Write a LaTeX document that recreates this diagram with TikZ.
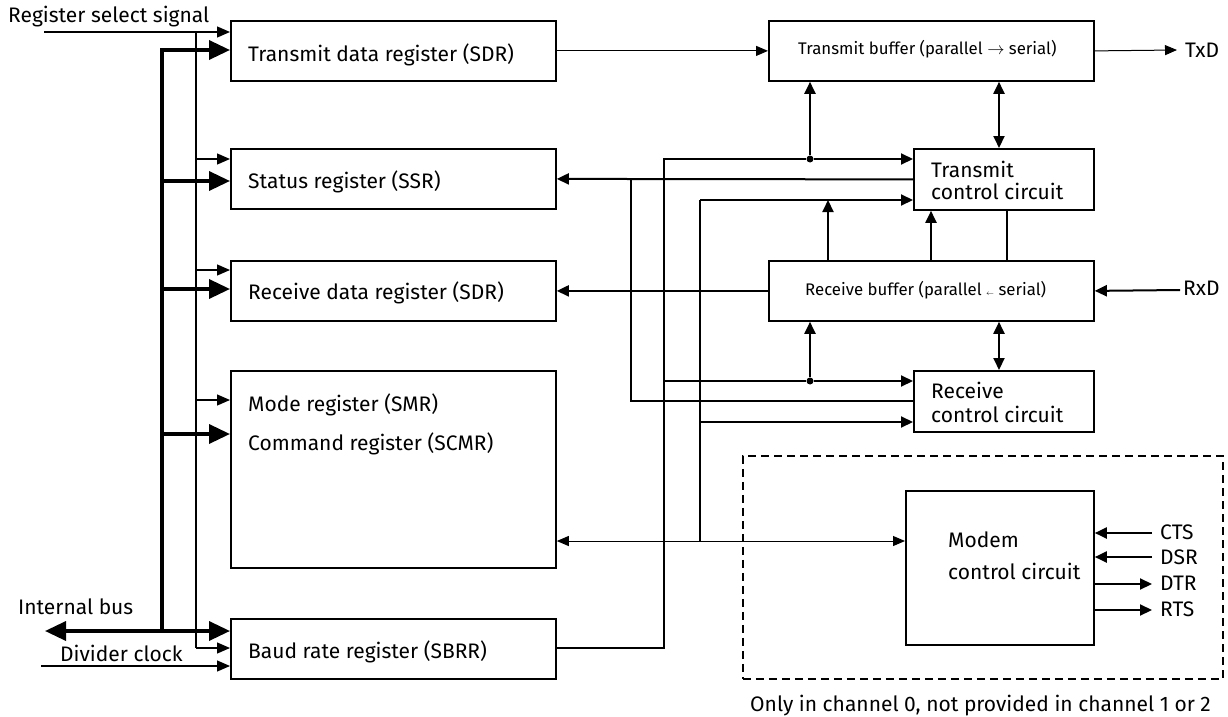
\documentclass[tikz,border=0pt]{standalone}
\usepackage{fontspec}
\setmainfont{Fira Sans}
\usetikzlibrary{arrows.meta,calc}
\begin{document}
\begin{tikzpicture}[x=1pt,y=-1pt,
  box/.style={draw, line width=1.8pt, inner sep=0pt, anchor=north west},
  lab/.style={inner sep=0pt, anchor=base west, font=\fontsize{21}{23}\selectfont},
  small/.style={inner sep=0pt, anchor=base west, font=\fontsize{16.8}{18}\selectfont},
  sel/.style={line width=1.3pt, -{Triangle[length=13pt,width=11pt]}},
  bus/.style={line width=3.5pt, -{Triangle[length=21pt,width=19pt]}},
  busl/.style={line width=3.5pt},
  mid/.style={line width=2pt, -{Triangle[length=12pt,width=11pt]}},
  midd/.style={line width=2pt, {Triangle[length=12pt,width=11pt]}-{Triangle[length=12pt,width=11pt]}},
  midl/.style={line width=2pt},
  thn/.style={line width=1pt, -{Triangle[length=12pt,width=10pt]}},
  thnd/.style={line width=1pt, {Triangle[length=12pt,width=10pt]}-{Triangle[length=12pt,width=10pt]}},
  dot/.style={circle, fill, inner sep=0pt, minimum size=7pt}
]
\useasboundingbox (0,0) rectangle (1228,717);

% ---------- boxes ----------
\node[box, minimum width=325pt, minimum height=60pt] (sdrT) at (230,20) {};
\node[box, minimum width=325pt, minimum height=60pt] (ssr) at (230,148) {};
\node[box, minimum width=325pt, minimum height=60pt] (sdrR) at (230,260) {};
\node[box, minimum width=325pt, minimum height=197pt] (smr) at (230,370) {};
\node[box, minimum width=325pt, minimum height=60pt] (sbrr) at (230,618) {};
\node[box, minimum width=325pt, minimum height=60pt] (tbuf) at (768,20) {};
\node[box, minimum width=180pt, minimum height=61pt] (tctl) at (913,148) {};
\node[box, minimum width=325pt, minimum height=60pt] (rbuf) at (768,260) {};
\node[box, minimum width=180pt, minimum height=61pt] (rctl) at (913,370) {};
\node[box, minimum width=188pt, minimum height=154pt] (modem) at (905,490) {};
\node[box, line width=1.5pt, dash pattern=on 8pt off 5pt, minimum width=480pt, minimum height=223pt] (opt) at (742,455) {};

% ---------- texts ----------
\node[lab] (t1) at (248,62) {Transmit data register (SDR)};
\node[lab] (t2) at (248,188) {Status register (SSR)};
\node[lab] (t3) at (248,299) {Receive data register (SDR)};
\node[lab] (t4) at (248,411) {Mode register (SMR)};
\node[lab] (t5) at (248,450) {Command register (SCMR)};
\node[lab] (t6) at (248,658) {Baud rate register (SBRR)};
\node[lab] (t7) at (8,23) {Register select signal};
\node[lab] (t8) at (18,614) {Internal bus};
\node[lab] (t9) at (60,661) {Divider clock};
\node[small] (t10) at (798,55) {Transmit buffer (parallel $\rightarrow$ serial)};
\node[small] (t11) at (805,295) {Receive buffer (parallel {\scriptsize$\leftarrow$} serial)};
\node[lab] (t12) at (931,177) {Transmit};
\node[lab] (t13) at (931,199) {control circuit};
\node[lab] (t14) at (931,398) {Receive};
\node[lab] (t15) at (931,422) {control circuit};
\node[lab] (t16) at (948,547) {Modem};
\node[lab] (t17) at (948,579) {control circuit};
\node[lab] (txd) at (1185,57) {TxD};
\node[lab] (rxd) at (1183,295) {RxD};
\node[lab] (cts) at (1160,539) {CTS};
\node[lab] (dsr) at (1160,564) {DSR};
\node[lab] (dtr) at (1160,590) {DTR};
\node[lab] (rts) at (1160,616) {RTS};
\node[lab] (note) at (750,711) {Only in channel 0, not provided in channel 1 or 2};

% ---------- left: register select (thin) ----------
\coordinate (rs) at (44,32);
\coordinate (rsA) at (196,32);
\coordinate (rsB) at (196,648);
\draw[sel] (rs) -- (rs -| sdrT.west);
\draw[line width=1.3pt] (rsA) -- (rsB);
\draw[sel] (196,159) -- (ssr.west |- 0,159);
\draw[sel] (196,270) -- (sdrR.west |- 0,270);
\draw[sel] (196,400) -- (smr.west |- 0,400);
\draw[sel] (rsB) -- (rsB -| sbrr.west);

% ---------- left: internal bus (thick) ----------
\coordinate (bA) at (162,50);
\coordinate (bB) at (162,631);
\draw[busl] (bA) -- (bB);
\draw[bus] ($(bA)+(-1.75,0)$) -- (bA -| sdrT.west);
\draw[bus] (162,181) -- (ssr.west |- 0,181);
\draw[bus] (162,289) -- (sdrR.west |- 0,289);
\draw[bus] (162,434) -- (smr.west |- 0,434);
\draw[bus] (bB) -- (bB -| sbrr.west);
\coordinate (ib) at (45,631);
\draw[bus] (bB) -- (ib);

% ---------- divider clock ----------
\coordinate (dc) at (41,666);
\draw[sel] (dc) -- (dc -| sbrr.west);

% ---------- transmit path ----------
\draw[thn] (sdrT.east) -- (tbuf.west);
\coordinate (txe) at (1177,50);
\draw[thn] (tbuf.east) -- (txe);
\draw[midd] (tbuf.south -| 999,0) -- (tctl.north -| 999,0);

% clock line from SBRR
\coordinate (c1) at (664,159);
\coordinate (c2) at (664,648);
\coordinate (c3) at (664,381);
\node[dot] (d1) at (810,159) {};
\node[dot] (d2) at (810,381) {};
\draw[midl] (sbrr.east |- c2) -- (c2) -- (c1) -- (d1);
\draw[mid] (d1) -- (tctl.west |- d1);
\draw[mid] (d1) -- (tbuf.south -| d1);
\draw[midl] (c3) -- (d2);
\draw[mid] (d2) -- (rctl.west |- d2);
\draw[mid] (d2) -- (rbuf.south -| d2);

% status lines
\coordinate (s1) at (631,178);
\coordinate (s2) at (631,401);
\draw[mid] (tctl.west) -- (ssr.east);
\draw[midl] (rctl.west |- s2) -- (s2) -- (s1);

% mode/command line
\coordinate (m1) at (700,200);
\coordinate (m2) at (700,422);
\coordinate (m3) at (700,541);
\draw[midl] (m3) -- (m1);
\draw[mid] (m1) -- (tctl.west |- m1);
\draw[mid] (m2) -- (rctl.west |- m2);
\draw[thnd] (smr.east |- m3) -- (modem.west |- m3);

% receive buffer links
\draw[mid] (rbuf.north -| 828,0) -- (828,200);
\draw[mid] (rbuf.north -| 931,0) -- (tctl.south -| 931,0);
\draw[midl] (rbuf.north -| 1007,0) -- (tctl.south -| 1007,0);
\draw[mid] (rbuf.west) -- (sdrR.east);
\coordinate (rxs) at (1180,290);
\draw[mid] (rxs) -- (rbuf.east);
\draw[midd] (rbuf.south -| 999,0) -- (rctl.north -| 999,0);

% modem signals
\draw[mid] (1152,533) -- (modem.east |- 0,533);
\draw[mid] (1152,557) -- (modem.east |- 0,557);
\draw[mid] (modem.east |- 0,584) -- (1152,584);
\draw[mid] (modem.east |- 0,610) -- (1152,610);
\end{tikzpicture}
\end{document}
